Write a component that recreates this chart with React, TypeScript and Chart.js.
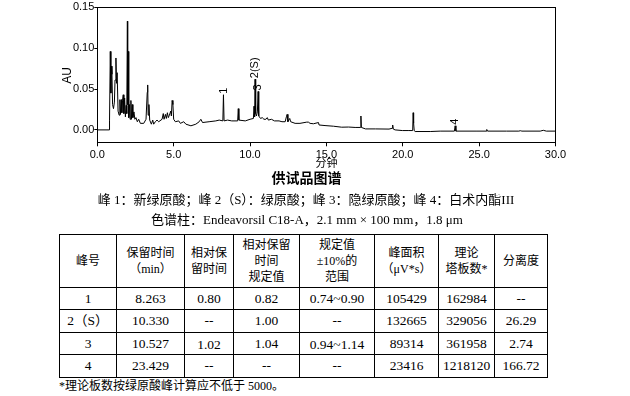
import React, { useEffect, useRef } from "react";
import { Chart, registerables } from "chart.js";

Chart.register(...registerables);

// Chromatogram trace (retention time in min, absorbance in AU)
const retentionTimes = [
  0.0, 0.78, 0.8, 0.85, 0.89, 0.92, 0.96, 1.0, 1.06, 1.12, 1.16, 1.22, 1.26, 1.3, 1.36, 1.43, 1.48, 1.52, 1.57, 1.61,
  1.65, 1.7, 1.74, 1.79, 1.84, 1.89, 1.93, 1.97, 1.99, 2.02, 2.06, 2.11, 2.15, 2.2, 2.24, 2.29, 2.33, 2.4, 2.46, 2.53,
  2.62, 2.71, 2.82, 3.04, 3.19, 3.27, 3.3, 3.33, 3.38, 3.43, 3.54, 3.63, 3.69, 3.8, 3.91, 4.02, 4.24, 4.32, 4.37, 4.46,
  4.52, 4.59, 4.65, 4.72, 4.81, 4.85, 4.9, 4.95, 5.0, 5.11, 5.33, 5.44, 5.66, 5.8, 6.13, 6.45, 6.67, 6.78, 6.89, 7.32,
  7.76, 7.98, 8.22, 8.26, 8.3, 8.53, 8.8, 9.19, 9.23, 9.27, 9.69, 10.0, 10.22, 10.26, 10.3, 10.33, 10.37, 10.42, 10.48,
  10.53, 10.57, 10.69, 10.8, 10.91, 11.04, 11.13, 11.2, 11.4, 11.6, 11.9, 12.09, 12.3, 12.38, 12.43, 12.48, 12.6, 12.66,
  12.95, 13.27, 13.71, 13.82, 13.93, 14.15, 14.48, 14.52, 14.91, 15.46, 16.0, 16.45, 16.88, 17.23, 17.26, 17.29, 17.56,
  18.22, 19.1, 19.31, 19.34, 19.38, 19.5, 19.97, 20.4, 20.65, 20.68, 20.71, 20.75, 20.81, 21.8, 22.45, 23.38, 23.43,
  23.48, 24.86, 25.45, 25.5, 25.55, 26.8, 27.6, 27.7, 27.8, 29.0, 29.2, 29.4, 30.0,
];
const absorbance = [
  0.0, 0.0, 0.011, 0.096, 0.045, 0.078, 0.068, 0.031, 0.026, 0.034, 0.061, 0.088, 0.057, 0.07, 0.023, 0.018, 0.037, 0.019, 0.037, 0.021,
  0.036, 0.043, 0.02, 0.039, 0.016, 0.03, 0.02, 0.133, 0.031, 0.096, 0.015, 0.031, 0.013, 0.036, 0.013, 0.031, 0.015, 0.022, 0.013, 0.015,
  0.01, 0.013, 0.008, 0.008, 0.013, 0.046, 0.055, 0.018, 0.031, 0.012, 0.007, 0.012, 0.007, 0.01, 0.012, 0.01, 0.013, 0.02, 0.013, 0.019,
  0.014, 0.021, 0.015, 0.018, 0.023, 0.017, 0.036, 0.031, 0.013, 0.01, 0.011, 0.008, 0.01, 0.007, 0.005, 0.007, 0.01, 0.013, 0.009, 0.01,
  0.011, 0.012, 0.011, 0.043, 0.011, 0.012, 0.011, 0.011, 0.026, 0.012, 0.011, 0.013, 0.014, 0.029, 0.016, 0.062, 0.02, 0.017, 0.022,
  0.047, 0.017, 0.014, 0.015, 0.013, 0.013, 0.015, 0.012, 0.013, 0.011, 0.011, 0.01, 0.01, 0.016, 0.019, 0.01, 0.014, 0.01,
  0.008, 0.008, 0.0095, 0.0095, 0.008, 0.0075, 0.009, 0.006, 0.0053, 0.0045, 0.0033, 0.0035, 0.003, 0.003, 0.017, 0.003, 0.0012,
  0.0012, 0.001, 0.002, 0.006, 0.001, 0.0, -0.0008, -0.0008, -0.0008, 0.021, 0.008, -0.001, -0.002, -0.002, -0.0015, -0.0015, 0.005,
  -0.0015, -0.0015, -0.0015, 0.0005, -0.0015, -0.0015, -0.0015, -0.001, -0.0015, -0.0015, -0.0005, -0.0015, -0.0015,
];

// Peak annotations
const peakLabels = ["1", "2(S)", "3", "4"];
const peakTimes = [8.263, 10.33, 10.527, 23.429];
const peakHeights = [0.043, 0.062, 0.047, 0.005];

const yTickValues = [0, 0.05, 0.1, 0.15];
const xTickValues = [0, 5, 10, 15, 20, 25, 30];

// Table
const tableHeaders = [
  ["峰号"],
  ["保留时间", "（min）"],
  ["相对保", "留时间"],
  ["相对保留", "时间", "规定值"],
  ["规定值", "±10%的", "范围"],
  ["峰面积", "（μV*s）"],
  ["理论", "塔板数*"],
  ["分离度"],
];
const peakNames = ["1", "2（S）", "3", "4"];
const retentionCol = ["8.263", "10.330", "10.527", "23.429"];
const relativeRetention = ["0.80", "--", "1.02", "--"];
const specifiedRelative = ["0.82", "1.00", "1.04", "--"];
const allowedRange = ["0.74~0.90", "--", "0.94~1.14", "--"];
const peakAreas = ["105429", "132665", "89314", "23416"];
const plateNumbers = ["162984", "329056", "361958", "1218120"];
const resolutions = ["--", "26.29", "2.74", "166.72"];

const colWidths = [57, 68, 49, 66, 75, 64, 56, 53];
const rowHeights = [22, 23, 22, 23];

const FONT = '"Liberation Serif", "Noto Sans CJK SC", serif';

const boxPlugin = {
  id: "box",
  afterDraw(chart: any) {
    const { ctx, chartArea } = chart;
    const l = Math.round(chartArea.left) + 0.5;
    const t = Math.round(chartArea.top) + 0.5;
    const r = Math.round(chartArea.right) - 0.5;
    const b = Math.round(chartArea.bottom) - 0.5;
    ctx.save();
    ctx.strokeStyle = "#000";
    ctx.lineWidth = 1;
    ctx.strokeRect(l, t, r - l, b - t);
    ctx.restore();
  },
};

const peakLabelPlugin = {
  id: "peakLabels",
  afterDatasetsDraw(chart: any) {
    const { ctx, scales } = chart;
    ctx.save();
    ctx.fillStyle = "#000";
    ctx.font = '11px "Liberation Sans", Arial, sans-serif';
    ctx.textAlign = "left";
    ctx.textBaseline = "middle";
    peakLabels.forEach((label, i) => {
      const x = scales.x.getPixelForValue(peakTimes[i]);
      const y = scales.y.getPixelForValue(peakHeights[i]) - 1;
      ctx.save();
      ctx.translate(x, y);
      ctx.rotate(-Math.PI / 2);
      ctx.fillText(label, 0, 0);
      ctx.restore();
    });
    ctx.restore();
  },
};

function ChromChart() {
  const ref = useRef<HTMLCanvasElement | null>(null);
  useEffect(() => {
    if (!ref.current) return;
    const tickFont = { family: '"Liberation Sans", Arial, sans-serif', size: 11 };
    const chart = new Chart(ref.current, {
      type: "line",
      data: {
        datasets: [
          {
            data: retentionTimes.map((t, i) => ({ x: t, y: absorbance[i] })),
            borderColor: "#000",
            borderWidth: 1,
            pointRadius: 0,
            tension: 0,
            fill: false,
          },
        ],
      },
      options: {
        responsive: false,
        animation: false,
        events: [],
        layout: { padding: { left: 60, right: 74.5, top: 7.3, bottom: 0 } },
        plugins: { legend: { display: false }, tooltip: { enabled: false } },
        scales: {
          x: {
            type: "linear",
            min: 0,
            max: 30,
            afterBuildTicks: (s: any) => {
              s.ticks = xTickValues.map((v) => ({ value: v }));
            },
            afterFit: (s: any) => {
              s.height = 26.7;
            },
            ticks: {
              color: "#000",
              font: tickFont,
              padding: 2,
              maxRotation: 0,
              autoSkip: false,
              callback: (v: any) => Number(v).toFixed(1),
            },
            grid: { drawOnChartArea: false, drawTicks: true, tickLength: 3, color: "#000" },
            border: { display: false },
            title: {
              display: true,
              text: "分钟",
              color: "#000",
              font: { family: '"Noto Sans CJK SC", sans-serif', size: 11 },
              padding: { top: 0, bottom: 1 },
            },
          },
          y: {
            type: "linear",
            min: -0.0164,
            max: 0.15,
            afterBuildTicks: (s: any) => {
              s.ticks = yTickValues.map((v) => ({ value: v }));
            },
            afterFit: (s: any) => {
              s.width = 37.3;
            },
            ticks: {
              color: "#000",
              font: tickFont,
              padding: 0,
              autoSkip: false,
              callback: (v: any) => Number(v).toFixed(2),
            },
            grid: { drawOnChartArea: false, drawTicks: true, tickLength: 3, color: "#000" },
            border: { display: false },
            title: {
              display: true,
              text: "AU",
              color: "#000",
              font: { family: '"Liberation Sans", Arial, sans-serif', size: 12 },
              padding: { top: 0, bottom: 0 },
            },
          },
        },
      },
      plugins: [boxPlugin, peakLabelPlugin],
    } as any);
    return () => chart.destroy();
  }, []);
  return (
    <canvas
      ref={ref}
      width={630}
      height={170}
      style={{ position: "absolute", left: 0, top: 0, width: 630, height: 170 }}
    />
  );
}

const cellStyle: React.CSSProperties = {
  border: "1px solid #000",
  padding: 0,
  textAlign: "center",
  verticalAlign: "middle",
};

export default function App() {
  const rows = peakNames.map((p, i) => [
    p,
    retentionCol[i],
    relativeRetention[i],
    specifiedRelative[i],
    allowedRange[i],
    peakAreas[i],
    plateNumbers[i],
    resolutions[i],
  ]);
  return (
    <div
      style={{
        position: "absolute",
        left: 0,
        top: 0,
        width: 630,
        height: 396,
        background: "#fff",
        fontFamily: FONT,
        color: "#000",
        overflow: "hidden",
      }}
    >
      <ChromChart />
      <div
        style={{
          position: "absolute",
          left: 0,
          top: 168,
          width: 613,
          textAlign: "center",
          fontSize: 14,
          lineHeight: "18px",
          fontWeight: "bold",
          fontFamily: '"Noto Sans CJK SC", sans-serif',
        }}
      >
        供试品图谱
      </div>
      <div
        style={{
          position: "absolute",
          left: 0,
          top: 191,
          width: 612,
          textAlign: "center",
          fontSize: 13,
          lineHeight: "18px",
          whiteSpace: "nowrap",
        }}
      >
        峰 1：新绿原酸；峰 2（S）：绿原酸；峰 3：隐绿原酸；峰 4：白术内酯III
      </div>
      <div
        style={{
          position: "absolute",
          left: 0,
          top: 211,
          width: 614,
          textAlign: "center",
          fontSize: 13,
          lineHeight: "18px",
          whiteSpace: "nowrap",
        }}
      >
        色谱柱：Endeavorsil C18-A，2.1 mm × 100 mm，1.8 μm
      </div>
      <table
        style={{
          position: "absolute",
          left: 59,
          top: 234,
          borderCollapse: "collapse",
          tableLayout: "fixed",
          width: colWidths.reduce((a, b) => a + b, 0),
        }}
      >
        <colgroup>
          {colWidths.map((w, i) => (
            <col key={i} style={{ width: w }} />
          ))}
        </colgroup>
        <tbody>
          <tr style={{ height: 53 }}>
            {tableHeaders.map((lines, i) => (
              <td key={i} style={{ ...cellStyle, fontSize: 12, lineHeight: "16px" }}>
                {lines.map((ln, j) => (
                  <div key={j}>{ln}</div>
                ))}
              </td>
            ))}
          </tr>
          {rows.map((r, i) => (
            <tr key={i} style={{ height: rowHeights[i] }}>
              {r.map((c, j) => (
                <td
                  key={j}
                  style={{
                    ...cellStyle,
                    fontSize: 13.5,
                    lineHeight: "16px",
                    paddingTop: i === 2 && (j === 2 || j === 4) ? 3 : 0,
                  }}
                >
                  {c}
                </td>
              ))}
            </tr>
          ))}
        </tbody>
      </table>
      <div
        style={{
          position: "absolute",
          left: 59,
          top: 378,
          fontSize: 12,
          lineHeight: "16px",
          whiteSpace: "nowrap",
        }}
      >
        *理论板数按绿原酸峰计算应不低于 5000。
      </div>
    </div>
  );
}
